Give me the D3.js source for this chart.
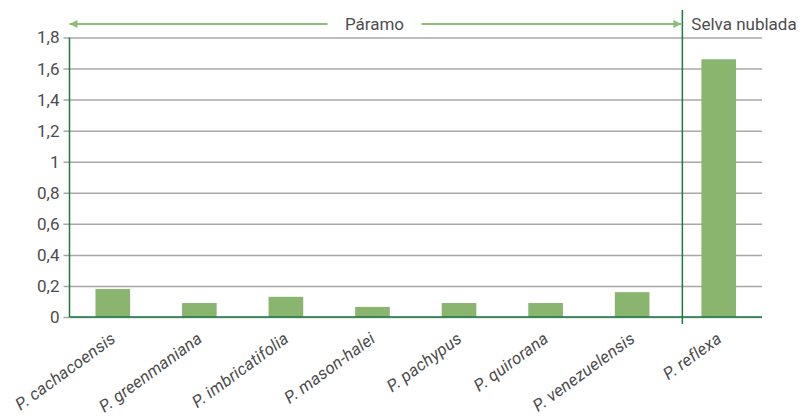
<!DOCTYPE html>
<html>
<head>
<meta charset="utf-8">
<script src="https://cdn.jsdelivr.net/npm/d3@7"></script>
<style>
  body { margin: 0; background: #fff; }
  text { font-family: Roboto, "Noto Sans", sans-serif; fill: #4d4d4d; }
</style>
</head>
<body>
<svg id="chart" width="807" height="418"></svg>
<script>

/////// Data ///////

var species = ["P. cachacoensis", "P. greenmaniana", "P. imbricatifolia", "P. mason-halei",
               "P. pachypus", "P. quirorana", "P. venezuelensis", "P. reflexa"];
var values = [0.18, 0.09, 0.13, 0.065, 0.09, 0.09, 0.16, 1.66];
var yTicks = [0, 0.2, 0.4, 0.6, 0.8, 1, 1.2, 1.4, 1.6, 1.8];
var zones = ["Páramo", "Selva nublada"];

/////// Layout ///////

var svg = d3.select("#chart"),
margin = {top: 37.5, right: 45, bottom: 101, left: 69.5},
width = +svg.attr("width") - margin.left - margin.right,
height = +svg.attr("height") - margin.top - margin.bottom;

var g = svg.append("g")
.attr("transform", "translate(" + margin.left + "," + margin.top + ")");

var x = d3.scaleBand().domain(species).range([0, width]).paddingInner(0.6).paddingOuter(0.3),
y = d3.scaleLinear().domain([0, 1.8]).range([height, 0]);

var fmt = function(d) { return String(d).replace(".", ","); };

/////// Grid + y axis ///////

var yAxis = d3.axisLeft(y).tickValues(yTicks).tickSize(-width - 6).tickFormat(fmt);

g.append("g")
.attr("class", "axis")
.attr("transform", "translate(-6,0)")
.call(yAxis)
.call(function(s) {
    s.select(".domain").remove();
    s.selectAll("line").attr("stroke", "#a8a8a8").attr("stroke-width", 1.5);
    s.selectAll("text").attr("x", -4).attr("font-size", "17px").attr("fill", "#4d4d4d");
});

/////// Bars ///////

g.selectAll(".bar")
.data(values)
.enter().append("rect")
.attr("class", "bar")
.attr("x", function(d, i) { return x(species[i]); })
.attr("width", x.bandwidth())
.attr("y", function(d) { return y(d); })
.attr("height", function(d) { return height - y(d); })
.attr("fill", "#8ab56f");

/////// Axis lines ///////

g.append("line")
.attr("x1", 0).attr("x2", 0).attr("y1", 0).attr("y2", height)
.attr("stroke", "#1c7a43").attr("stroke-width", 1.5);

g.append("line")
.attr("x1", 0).attr("x2", width).attr("y1", height).attr("y2", height)
.attr("stroke", "#1c7a43").attr("stroke-width", 1.5);

/////// X labels ///////

var xAxis = d3.axisBottom(x).tickSize(0);

g.append("g")
.attr("transform", "translate(0," + height + ")")
.call(xAxis)
.call(function(s) {
    s.select(".domain").remove();
    s.selectAll("text")
    .attr("font-size", "16.8px")
    .attr("fill", "#4d4d4d")
    .attr("font-style", "italic")
    .attr("letter-spacing", "0.2px")
    .attr("text-anchor", "end")
    .attr("dy", 0)
    .attr("y", 0)
    .attr("transform", "translate(4,24) rotate(-36)");
});

/////// Zone divider + arrows ///////

var divX = x(species[6]) + x.bandwidth() + x.step() * 0.38;
var arrowY = 24 - margin.top;

g.append("line")
.attr("x1", divX).attr("x2", divX).attr("y1", 10 - margin.top).attr("y2", height + 7)
.attr("stroke", "#1c7a43").attr("stroke-width", 1.5);

var defs = svg.append("defs");
defs.append("marker")
.attr("id", "arrow")
.attr("viewBox", "0 0 10 10")
.attr("refX", 10).attr("refY", 5)
.attr("markerWidth", 5).attr("markerHeight", 4)
.attr("markerUnits", "strokeWidth")
.attr("orient", "auto")
.append("path")
.attr("d", "M0,0L10,5L0,10Z")
.attr("fill", "#8dbd77");

g.append("line")
.attr("x1", 258).attr("x2", 0).attr("y1", arrowY).attr("y2", arrowY)
.attr("stroke", "#8dbd77").attr("stroke-width", 2)
.attr("marker-end", "url(#arrow)");

g.append("line")
.attr("x1", 352).attr("x2", divX - 1).attr("y1", arrowY).attr("y2", arrowY)
.attr("stroke", "#8dbd77").attr("stroke-width", 2)
.attr("marker-end", "url(#arrow)");

g.append("text")
.attr("x", 305).attr("y", arrowY + 6)
.attr("text-anchor", "middle")
.attr("font-size", "17px")
.text(zones[0]);

g.append("text")
.attr("x", divX + 9).attr("y", arrowY + 6)
.attr("font-size", "17px")
.text(zones[1]);

</script>
</body>
</html>
